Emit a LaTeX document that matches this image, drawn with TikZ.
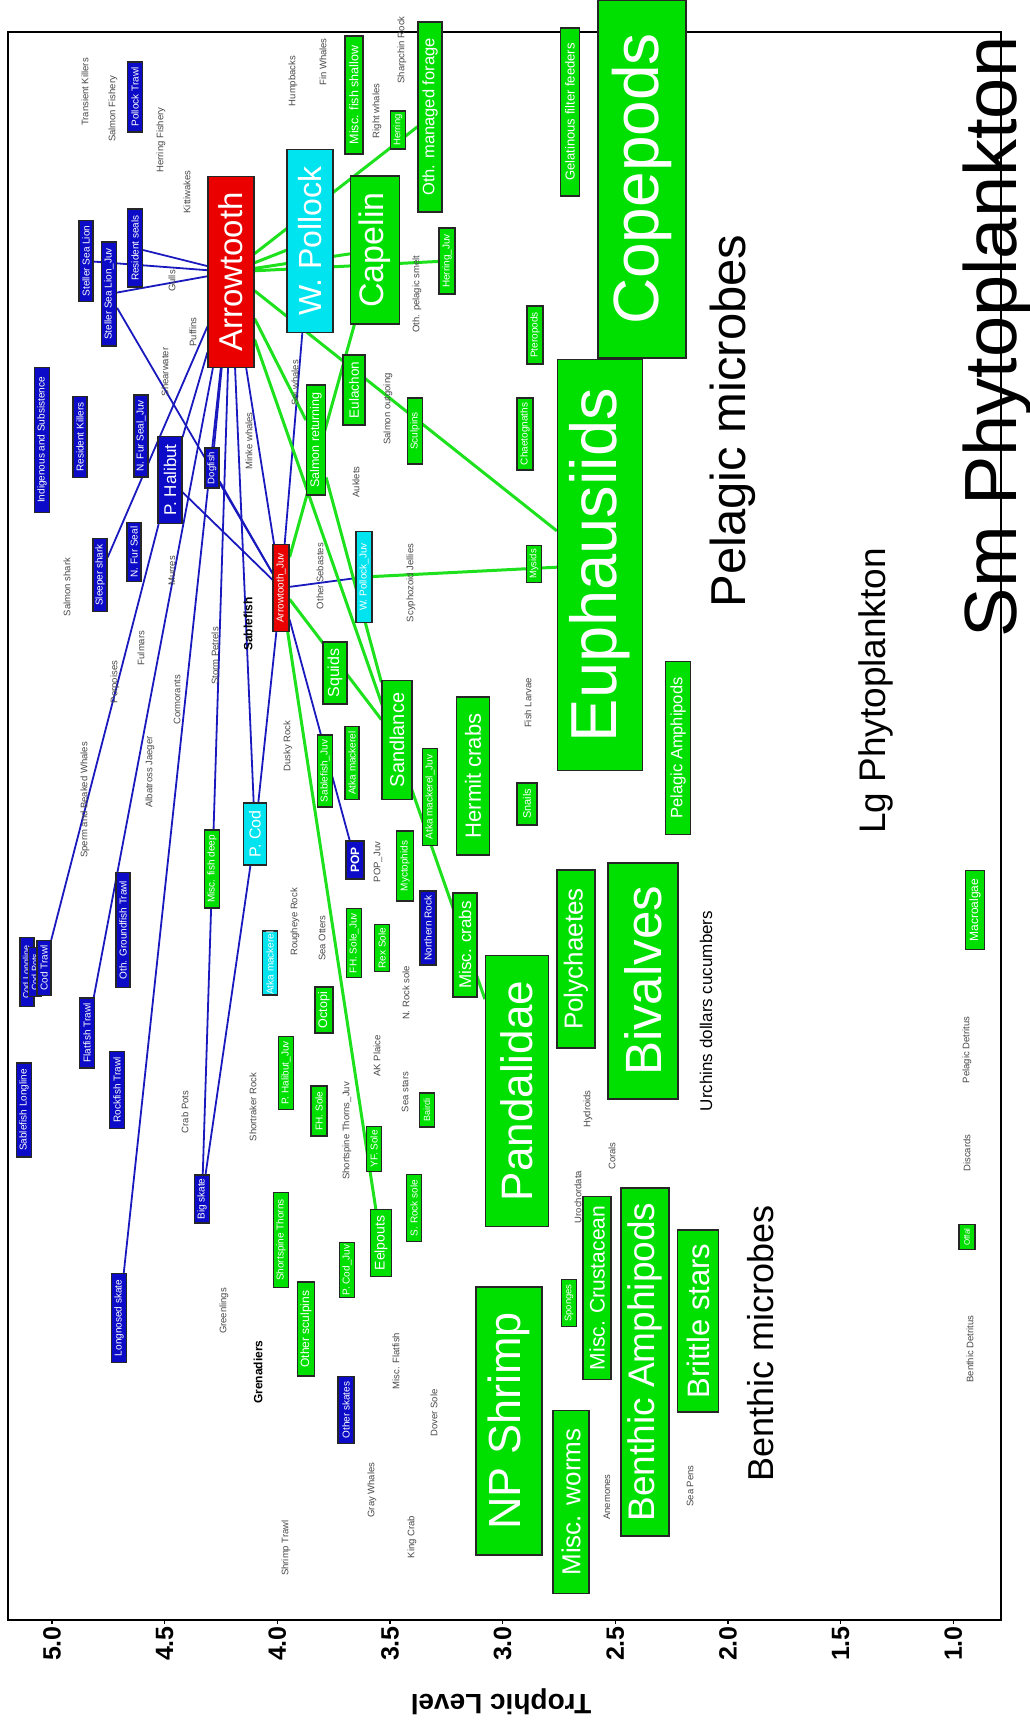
\documentclass[tikz,border=0pt]{standalone}
\usepackage{fontspec}
\setmainfont{Liberation Sans}
\definecolor{cg}{RGB}{0,224,0}
\definecolor{cb}{RGB}{12,12,200}
\definecolor{cr}{RGB}{235,0,0}
\definecolor{cc}{RGB}{0,228,240}
\definecolor{lb}{RGB}{25,25,190}
\definecolor{lg}{RGB}{30,225,30}
\pgfdeclarelayer{bg}
\pgfsetlayers{bg,main}
\tikzset{
 box/.style={draw=black!85,line width=1.2pt,rotate=90,inner sep=0pt,text=white},
 lab/.style={rotate=90,inner sep=0pt,text=black!72,font=\fontsize{9.5pt}{9.5pt}\selectfont},
 boldlab/.style={rotate=90,inner sep=0pt,text=black,font=\bfseries\fontsize{12pt}{12pt}\selectfont},
 big/.style={rotate=90,inner sep=0pt,text=black,anchor=base},
 bl/.style={draw=lb,line width=1.8pt},
 gl/.style={draw=lg,line width=3pt},
 ticklab/.style={rotate=90,anchor=east,inner sep=0pt,font=\bfseries\fontsize{25pt}{25pt}\selectfont},
}
\newcommand{\BX}[8]{\node[box,fill=#1,minimum width=#6pt,minimum height=#5pt,font=\fontsize{#7pt}{#7pt}\selectfont] (#2) at (#3,#4) {#8};}
\newcommand{\LB}[4]{\node[lab] (#1) at (#2,#3) {#4};}
\begin{document}
\begin{tikzpicture}[x=1pt,y=-1pt]
\useasboundingbox (0,0) rectangle (1030,1732);
% ---------- blue boxes
\BX{cb}{polT}{135}{97}{15}{70}{10}{Pollock Trawl}
\BX{cb}{ssl}{86}{261}{14}{81}{10}{Steller Sea Lion}
\BX{cb}{sslj}{109}{294}{15}{104}{10}{Steller Sea Lion\_Juv}
\BX{cb}{rseal}{135}{248}{15}{78}{10}{Resident seals}
\BX{cb}{indig}{42}{440}{15}{145}{10}{Indigenous and Subsistence}
\BX{cb}{rkill}{80}{437}{14}{81}{10}{Resident Killers}
\BX{cb}{nfsj}{141}{436}{14}{82}{10}{N. Fur Seal\_Juv}
\BX{cb}{phal}{170}{480}{24}{87}{17}{P. Halibut}
\BX{cb}{dogf}{212}{468}{14}{40}{9.5}{Dogfish}
\BX{cb}{sleep}{100}{575}{14}{73}{10}{Sleeper shark}
\BX{cb}{nfs}{134}{552}{14}{59}{10}{N. Fur Seal}
\BX{cb}{codll}{27}{972}{14}{69}{9}{Cod Longline}
\BX{cb}{codpot}{35}{972}{13}{49}{9}{Cod Pots}
\BX{cb}{codtr}{44}{968}{14}{55}{10}{Cod Trawl}
\BX{cb}{ogt}{123}{930}{14}{115}{10}{Oth. Groundfish Trawl}
\BX{cb}{flat}{87}{1033}{15}{70}{10}{Flatfish Trawl}
\BX{cb}{sabll}{24}{1110}{15}{94}{10}{Sablefish Longline}
\BX{cb}{rockt}{117}{1090}{15}{77}{10}{Rockfish Trawl}
\BX{cb}{bigsk}{202}{1199}{15}{48}{10}{Big skate}
\BX{cb}{lnsk}{119}{1318}{15}{89}{10}{Longnosed skate}
\BX{cb}{oskate}{346}{1410}{16}{67}{10}{Other skates}
\BX{cb}{pop}{355}{860}{18}{38}{12}{\bfseries POP}
\BX{cb}{nrock}{428}{928}{16}{74}{10}{Northern Rock}
% ---------- red boxes
\BX{cr}{arr}{231}{272}{46}{191}{33}{Arrowtooth}
\BX{cr}{arrj}{281}{588}{16}{87}{10}{Arrowtooth\_Juv}
% ---------- cyan boxes
\BX{cc}{wpol}{310}{241}{46}{183}{32}{W. Pollock}
\BX{cc}{wpolj}{364}{577}{16}{91}{10}{W. Pollock\_Juv}
\BX{cc}{pcod}{255}{834}{23}{62}{16}{P. Cod}
\BX{cc}{atka}{270}{963}{15}{64}{10}{Atka mackerel}
% ---------- green boxes
\BX{cg}{mfsh}{354}{95}{18}{118}{12.5}{Misc. fish shallow}
\BX{cg}{herr}{398}{130}{15}{38}{9.5}{Herring}
\BX{cg}{omf}{430}{117}{24}{190}{16.5}{Oth. managed forage}
\BX{cg}{gel}{570}{112}{19}{168}{13}{Gelatinous filter feeders}
\BX{cg}{cope}{642}{179}{88}{358}{64}{Copepods}
\BX{cg}{cap}{375}{250}{49}{148}{34}{Capelin}
\BX{cg}{herrj}{447}{261}{16}{66}{10}{Herring\_Juv}
\BX{cg}{pter}{535}{335}{16}{58}{10}{Pteropods}
\BX{cg}{eul}{354}{390}{22}{70}{13.5}{Eulachon}
\BX{cg}{sret}{316}{440}{19}{110}{12.5}{Salmon returning}
\BX{cg}{sculp}{415}{431}{15}{66}{10}{Sculpins}
\BX{cg}{chaet}{525}{434}{16}{72}{10}{Chaetognaths}
\BX{cg}{euph}{600}{565}{85}{411}{65}{Euphausiids}
\BX{cg}{mys}{534}{564}{15}{37}{9.5}{Mysids}
\BX{cg}{squid}{335}{673}{24}{62}{16}{Squids}
\BX{cg}{sabj}{325}{771}{15}{72}{10}{Sablefish\_Juv}
\BX{cg}{sand}{397}{740}{30}{119}{20}{Sandlance}
\BX{cg}{atkag}{352}{763}{14}{73}{10}{Atka mackerel}
\BX{cg}{atkaj}{430}{797}{15}{97}{10}{Atka mackerel\_Juv}
\BX{cg}{herm}{473}{776}{33}{158}{22}{Hermit crabs}
\BX{cg}{snail}{527}{804}{20}{42}{11}{Snails}
\BX{cg}{pamph}{678}{748}{25}{173}{16.5}{Pelagic Amphipods}
\BX{cg}{mfdeep}{212}{869}{15}{78}{10}{Misc. fish deep}
\BX{cg}{myct}{405}{866}{17}{70}{10}{Myctophids}
\BX{cg}{fhsj}{354}{943}{15}{69}{10}{FH. Sole\_Juv}
\BX{cg}{rexs}{382}{948}{15}{47}{10}{Rex Sole}
\BX{cg}{mcrab}{465}{945}{24}{104}{17}{Misc. crabs}
\BX{cg}{octo}{324}{1010}{18}{46}{12.5}{Octopi}
\BX{cg}{phj}{286}{1073}{15}{73}{10}{P. Halibut\_Juv}
\BX{cg}{fhs}{319}{1111}{16}{50}{10}{FH. Sole}
\BX{cg}{bair}{427}{1110}{15}{34}{9}{Bairdi}
\BX{cg}{yfs}{374}{1149}{15}{45}{10}{YF. Sole}
\BX{cg}{srs}{414}{1208}{15}{67}{10}{S. Rock sole}
\BX{cg}{eelp}{381}{1243}{21}{67}{14}{Eelpouts}
\BX{cg}{sst}{281}{1240}{15}{95}{10}{Shortspine Thorns}
\BX{cg}{codj}{347}{1270}{15}{55}{10}{P. Cod\_Juv}
\BX{cg}{osculp}{306}{1329}{17}{94}{12}{Other sculpins}
\BX{cg}{pand}{517}{1091}{63}{271}{44}{Pandalidae}
\BX{cg}{poly}{576}{959}{38}{178}{26}{Polychaetes}
\BX{cg}{biv}{643}{981}{70}{236}{51}{Bivalves}
\BX{cg}{spong}{569}{1303}{15}{47}{9.5}{Sponges}
\BX{cg}{mcrus}{597}{1288}{28}{183}{21}{Misc. Crustacean}
\BX{cg}{npsh}{509}{1421}{66}{268}{45}{NP Shrimp}
\BX{cg}{mworm}{571}{1502}{36}{183}{26}{Misc. worms}
\BX{cg}{bamph}{645}{1362}{48}{348}{37}{Benthic Amphipods}
\BX{cg}{brit}{698}{1321}{41}{182}{31}{Brittle stars}
\BX{cg}{macro}{975}{910}{19}{79}{12}{Macroalgae}
\BX{cg}{offal}{967}{1237}{16}{25}{8}{Offal}
% ---------- plain labels
\LB{l1}{85}{92}{Transient Killers}
\LB{l2}{113}{109}{Salmon Fishery}
\LB{l3}{161}{140}{Herring Fishery}
\LB{l4}{187}{192}{Kittiwakes}
\LB{l5}{293}{81}{Humpbacks}
\LB{l6}{323}{62}{Fin Whales}
\LB{l7}{377}{111}{Right whales}
\LB{l8}{402}{50}{Sharpchin Rock}
\LB{l9}{172}{281}{Gulls}
\LB{l10}{193}{332}{Puffins}
\LB{l11}{165}{372}{Shearwater}
\LB{l12}{295}{383}{Sei whales}
\LB{l13}{417}{294}{Oth. pelagic smelt}
\LB{l14}{388}{409}{Salmon outgoing}
\LB{l15}{249}{441}{Minke whales}
\LB{l16}{356}{482}{Auklets}
\LB{l17}{320}{576}{Other Sebastes}
\LB{l18}{411}{583}{Scyphozoid Jellies}
\LB{l19}{67}{587}{Salmon shark}
\LB{l20}{172}{571}{Murres}
\node[boldlab] (l21) at (248,624) {Sablefish};
\LB{l22}{215}{656}{Storm Petrels}
\LB{l23}{141}{648}{Fulmars}
\LB{l24}{115}{682}{Porpoises}
\LB{l25}{177}{700}{Cormorants}
\LB{l26}{528}{703}{Fish Larvae}
\LB{l27}{288}{746}{Dusky Rock}
\LB{l28}{85}{800}{Sperm and Beaked Whales}
\LB{l29}{150}{772}{Albatross Jaeger}
\LB{l30}{378}{862}{POP\_Juv}
\LB{l31}{295}{922}{Rougheye Rock}
\LB{l32}{322}{938}{Sea Otters}
\LB{l33}{406}{993}{N. Rock sole}
\LB{l34}{377}{1056}{AK Plaice}
\LB{l35}{405}{1092}{Sea stars}
\LB{l36}{347}{1131}{Shortspine Thorns\_Juv}
\LB{l37}{185}{1112}{Crab Pots}
\LB{l38}{253}{1107}{Shortraker Rock}
\LB{l39}{588}{1109}{Hydroids}
\LB{l40}{612}{1156}{Corals}
\LB{l41}{578}{1197}{Urochordata}
\LB{l42}{224}{1311}{Greenlings}
\node[boldlab] (l43) at (258,1372) {Grenadiers};
\LB{l44}{396}{1361}{Misc. Flatfish}
\LB{l45}{434}{1413}{Dover Sole}
\LB{l46}{372}{1490}{Gray Whales}
\LB{l47}{412}{1537}{King Crab}
\LB{l48}{607}{1497}{Anemones}
\LB{l49}{690}{1486}{Sea Pens}
\LB{l50}{286}{1548}{Shrimp Trawl}
\LB{l51}{970}{1349}{Benthic Detritus}
\LB{l52}{967}{1050}{Pelagic Detritus}
\LB{l53}{967}{1153}{Discards}
% ---------- big labels
\node[big,font=\fontsize{49pt}{49pt}\selectfont] (pmic) at (745,421) {Pelagic microbes};
\node[big,font=\fontsize{37pt}{37pt}\selectfont] (lgph) at (885,691) {Lg Phytoplankton};
\node[big,font=\fontsize{74pt}{74pt}\selectfont] (smph) at (1016,337) {Sm Phytoplankton};
\node[big,font=\fontsize{36pt}{36pt}\selectfont] (bmic) at (773,1343) {Benthic microbes};
\node[big,font=\fontsize{17pt}{17pt}\selectfont] (urch) at (712,1011) {Urchins dollars cucumbers};
% ---------- axis
\foreach \v/\t [count=\i] in {5/5.0,4.5/4.5,4/4.0,3.5/3.5,3/3.0,2.5/2.5,2/2.0,1.5/1.5,1/1.0}{
  \coordinate (tk\i) at ({52+(5-\v)*225.3},1620);
  \node[ticklab] (tl\i) at ({52+(5-\v)*225.3},1626) {\t};
}
\node[rotate=180,inner sep=0pt,font=\bfseries\fontsize{28pt}{28pt}\selectfont] (ttl) at (501,1702) {Trophic Level};
\begin{pgfonlayer}{bg}
\draw[line width=1.5pt] (8,32) rectangle (1001,1620);
\foreach \i in {1,...,9}{\draw[line width=1.2pt] (tk\i) -- ++(0,4);}
% blue links
\draw[bl] (arr) -- (ssl);
\draw[bl] (arr) -- (rseal);
\draw[bl] (arr) -- (sslj);
\draw[bl] (arr) -- (sleep);
\draw[bl] (arr) -- (phal);
\draw[bl] (arr) -- (dogf);
\draw[bl] (arr) -- (arrj);
\draw[bl] (arr) -- (pcod);
\draw[bl] (arr) -- (bigsk);
\draw[bl] (arr) -- (lnsk);
\draw[bl] (arr) -- (flat);
\draw[bl] (phal) -- (codtr);
\draw[bl] (phal) -- (arrj);
\draw[bl] (dogf) -- (arrj);
\draw[bl] (sslj) -- (arrj);
\draw[bl] (wpol) -- (arrj);
\draw[bl] (arrj) -- (pcod);
\draw[bl] (pcod) -- (bigsk);
\draw[bl] (arrj) -- (pop);
\draw[bl] (arrj) -- (wpolj);
% green links
\draw[gl] (arr) -- (wpol);
\draw[gl] (arr) -- (omf);
\draw[gl] (arr) -- (cap);
\draw[gl] (arr) -- (herrj);
\draw[gl] (arr) -- (euph);
\draw[gl] (arr) -- (pand);
\draw[gl] (arr) -- (sret);
\draw[gl] (sret) -- (sand);
\draw[gl] (arrj) -- (cap);
\draw[gl] (arrj) -- (sand);
\draw[gl] (arrj) -- (eelp);
\draw[gl] (wpolj) -- (euph);
\end{pgfonlayer}
\end{tikzpicture}
\end{document}
